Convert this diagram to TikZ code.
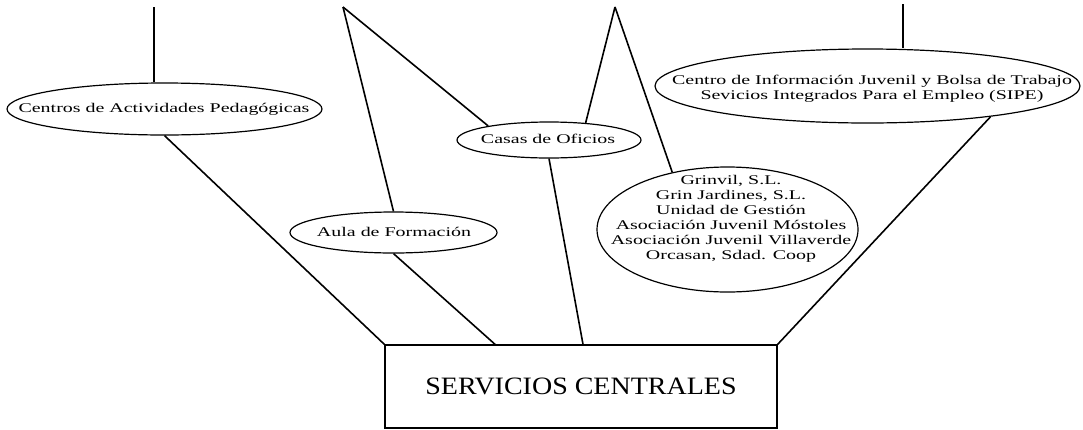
\documentclass[tikz,border=0pt]{standalone}
\usepackage{fontspec}
\setmainfont{Liberation Serif}
\newfontfamily\scanfont{Liberation Serif}[FakeStretch=1.5]
\newfontfamily\boxfont{Liberation Serif}[FakeStretch=1.12]
\usetikzlibrary{shapes.geometric}

\begin{document}
\begin{tikzpicture}[x=1pt,y=-1pt]
  \tikzset{oval/.style={draw,ellipse,line width=1.2pt,inner sep=0pt}}
  \tikzset{txt/.style={font=\scanfont\fontsize{13.3}{15}\selectfont,align=center,inner sep=0pt}}
  \tikzset{link/.style={line width=1.6pt}}
  %\draw[help lines] (0,0) grid[step=50] (1083,429);
  \useasboundingbox (0,0) rectangle (1083,429);

\node[draw,line width=1.4pt,minimum width=392pt,minimum height=83pt,inner sep=0pt,
      font=\boxfont\fontsize{25}{30}\selectfont] (SC) at (581,386.5) {SERVICIOS CENTRALES};

\node[oval,minimum width=315pt,minimum height=52pt] (CAP) at (164.5,109) {};
\node[txt] (tCAP) at (164,109) {Centros de Actividades Pedagógicas};

\node[oval,minimum width=207pt,minimum height=41pt] (AF) at (393.5,232.5) {};
\node[txt] (tAF) at (394,232) {Aula de Formación};

\node[oval,minimum width=184pt,minimum height=36pt] (CO) at (549,140) {};
\node[txt] (tCO) at (548,139) {Casas de Oficios};

\node[oval,minimum width=261pt,minimum height=125pt] (GR) at (727.5,229.5) {};
\node[txt] (tGR) at (731,219) {Grinvil, S.L.\\Grin Jardines, S.L.\\Unidad de Gestión\\
  Asociación Juvenil Móstoles\\Asociación Juvenil Villaverde\\Orcasan, Sdad. Coop};

\node[oval,minimum width=425pt,minimum height=74pt] (CIJ) at (867.5,86) {};
\node[txt] (tCIJ) at (872,89) {Centro de Información Juvenil y Bolsa de Trabajo\\
  Sevicios Integrados Para el Empleo (SIPE)};

\coordinate (T1) at (154,7);
\coordinate (A) at (343,7);
\coordinate (B) at (615,7);
\coordinate (T2) at (903,4);

\draw[link] (T1) -- (T1 |- CAP.north);
\draw[link] (CAP.south) -- (SC.north west);

\draw[link] (A) -- (AF.north);
\draw[link] (A) -- (CO.167);
\draw[link] (B) -- (CO.25);
\draw[link] (B) -- (GR.134);

\draw[link] (AF.south) -- ([xshift=-86pt]SC.north);
\draw[link] (CO.south) -- ([xshift=2pt]SC.north);

\draw[link] (T2) -- (T2 |- CIJ.north);
\draw[link] (CIJ.-14) -- (SC.north east);

\end{tikzpicture}
\end{document}
